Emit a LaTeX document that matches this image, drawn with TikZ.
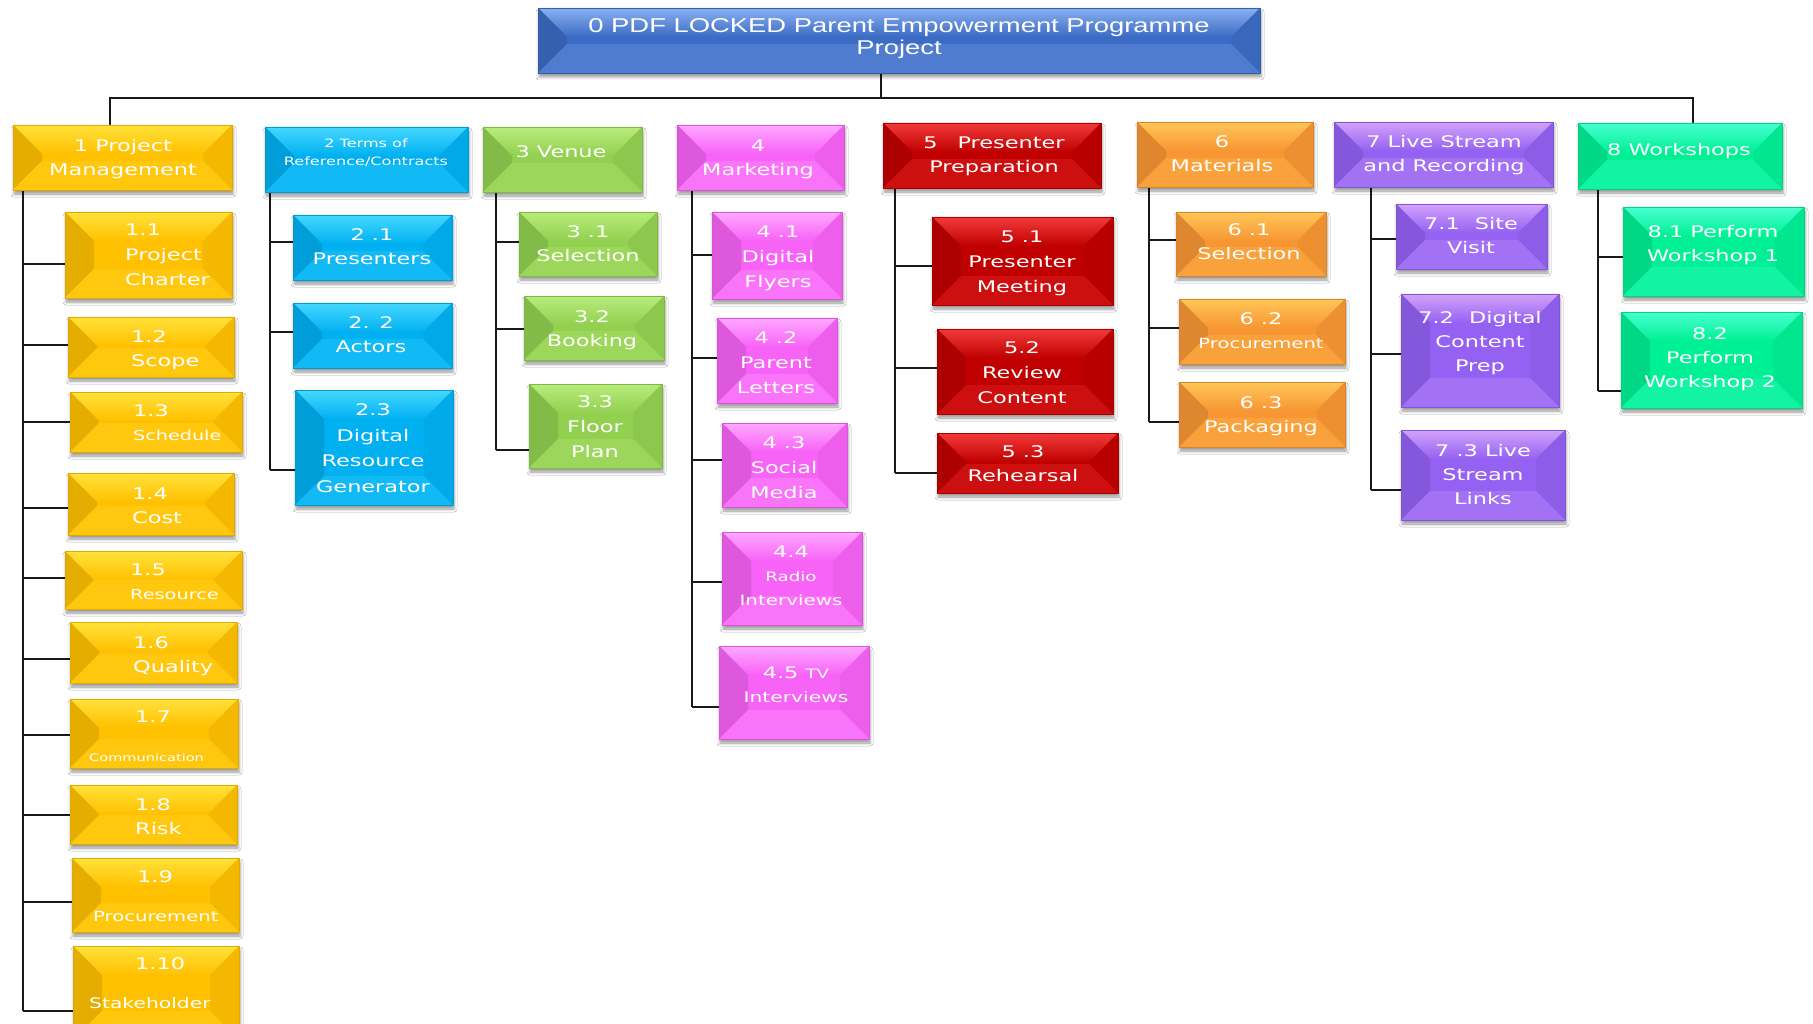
\documentclass[tikz,border=0pt]{standalone}
\usepackage{fontspec}
\newfontfamily\boxfont{DejaVu Sans}[FakeStretch=1.4]
\newfontfamily\titlefont{Liberation Sans}[FakeStretch=1.37]
\usetikzlibrary{shadows.blur}
\pgfdeclarelayer{background}
\pgfsetlayers{background,main}
\definecolor{cBlu}{HTML}{3B6BC4}\definecolor{cBluL}{HTML}{8AB0F0}
\definecolor{cYel}{HTML}{FFC000}\definecolor{cYelL}{HTML}{FFE23A}
\definecolor{cCya}{HTML}{00B0F0}\definecolor{cCyaL}{HTML}{45D8FF}
\definecolor{cGre}{HTML}{92D050}\definecolor{cGreL}{HTML}{B8EC7C}
\definecolor{cMag}{HTML}{F762F7}\definecolor{cMagL}{HTML}{FFA8FF}
\definecolor{cRed}{HTML}{C00000}\definecolor{cRedL}{HTML}{F23A3A}
\definecolor{cOra}{HTML}{F79633}\definecolor{cOraL}{HTML}{FFC658}
\definecolor{cPur}{HTML}{9461F2}\definecolor{cPurL}{HTML}{D2A2FA}
\definecolor{cTea}{HTML}{00F095}\definecolor{cTeaL}{HTML}{48FFD0}
\tikzset{
  box/.style 2 args={rectangle, inner sep=0pt, fill=#1, draw=#1!88!black, line width=0.5pt,
    blur shadow={shadow xshift=1pt, shadow yshift=-4pt, shadow blur radius=3pt, shadow opacity=40},
    path picture={
      \coordinate (ppnw) at (path picture bounding box.north west);
      \coordinate (ppne) at (path picture bounding box.north east);
      \coordinate (ppsw) at (path picture bounding box.south west);
      \coordinate (ppse) at (path picture bounding box.south east);
      \shade[top color=#2, bottom color=#1] (ppnw) -- (ppne) -- ([shift={(-29pt,-29pt)}]ppne) -- ([shift={(29pt,-29pt)}]ppnw) -- cycle;
      \fill[#1!90!black] (ppnw) -- ([shift={(29pt,-29pt)}]ppnw) -- ([shift={(29pt,29pt)}]ppsw) -- (ppsw) -- cycle;
      \fill[#1!96!black] (ppne) -- ([shift={(-29pt,-29pt)}]ppne) -- ([shift={(-29pt,29pt)}]ppse) -- (ppse) -- cycle;
      \fill[#2!25!#1] (ppsw) -- (ppse) -- ([shift={(-29pt,29pt)}]ppse) -- ([shift={(29pt,29pt)}]ppsw) -- cycle;
    }},
  txt/.style={text=white, inner sep=0pt, align=center, font=\boxfont\fontsize{16}{24}\selectfont, yshift=-3.5pt,
    execute at begin node=\strut, execute at end node=\strut},
  ltxt/.style={txt, align=left, anchor=west},
  pitch/.style={font=\boxfont\fontsize{16}{#1}\selectfont},
  conn/.style={line width=2pt, draw=black!90},
}
\newcommand\mkbox[7]{\node[box={#2}{#3}, minimum width={#6-#4}, minimum height={#7-#5}] (#1) at ({(#4+#6)/2},{(#5+#7)/2}) {};}
\newcommand\fs[1]{\fontsize{#1}{24}\selectfont}
\begin{document}
\begin{tikzpicture}[x=1pt,y=-1pt]
\useasboundingbox (0,0) rectangle (1813,1024);
% ---- boxes ----
\mkbox{n0}{cBlu}{cBluL}{538}{8}{1260}{73}
\mkbox{n1}{cYel}{cYelL}{13}{125}{232}{190}
\mkbox{n2}{cCya}{cCyaL}{265}{127}{468}{192}
\mkbox{n3}{cGre}{cGreL}{483}{127}{642}{192}
\mkbox{n4}{cMag}{cMagL}{677}{125}{844}{190}
\mkbox{n5}{cRed}{cRedL}{883}{123}{1101}{188}
\mkbox{n6}{cOra}{cOraL}{1137}{122}{1313}{187}
\mkbox{n7}{cPur}{cPurL}{1334}{122}{1553}{187}
\mkbox{n8}{cTea}{cTeaL}{1578}{123}{1782}{189}
%
\mkbox{c11}{cYel}{cYelL}{65}{212}{232}{298}
\mkbox{c12}{cYel}{cYelL}{68}{317}{234}{377}
\mkbox{c13}{cYel}{cYelL}{70}{392}{242}{452}
\mkbox{c14}{cYel}{cYelL}{68}{473}{234}{535}
\mkbox{c15}{cYel}{cYelL}{65}{551}{242}{609}
\mkbox{c16}{cYel}{cYelL}{70}{622}{237}{683}
\mkbox{c17}{cYel}{cYelL}{70}{699}{238}{768}
\mkbox{c18}{cYel}{cYelL}{70}{785}{237}{844}
\mkbox{c19}{cYel}{cYelL}{72}{858}{239}{932}
\mkbox{c110}{cYel}{cYelL}{73}{946}{239}{1040}
%
\mkbox{c21}{cCya}{cCyaL}{293}{215}{452}{280}
\mkbox{c22}{cCya}{cCyaL}{293}{303}{452}{368}
\mkbox{c23}{cCya}{cCyaL}{295}{390}{453}{505}
%
\mkbox{c31}{cGre}{cGreL}{519}{212}{657}{276}
\mkbox{c32}{cGre}{cGreL}{524}{296}{664}{360}
\mkbox{c33}{cGre}{cGreL}{529}{384}{662}{468}
%
\mkbox{c41}{cMag}{cMagL}{712}{212}{842}{299}
\mkbox{c42}{cMag}{cMagL}{717}{318}{837}{403}
\mkbox{c43}{cMag}{cMagL}{722}{423}{847}{507}
\mkbox{c44}{cMag}{cMagL}{722}{532}{862}{625}
\mkbox{c45}{cMag}{cMagL}{719}{646}{869}{739}
%
\mkbox{c51}{cRed}{cRedL}{932}{217}{1113}{305}
\mkbox{c52}{cRed}{cRedL}{937}{329}{1113}{414}
\mkbox{c53}{cRed}{cRedL}{937}{433}{1118}{493}
%
\mkbox{c61}{cOra}{cOraL}{1176}{212}{1326}{276}
\mkbox{c62}{cOra}{cOraL}{1179}{299}{1345}{364}
\mkbox{c63}{cOra}{cOraL}{1179}{382}{1345}{447}
%
\mkbox{c71}{cPur}{cPurL}{1396}{204}{1547}{269}
\mkbox{c72}{cPur}{cPurL}{1401}{294}{1559}{407}
\mkbox{c73}{cPur}{cPurL}{1401}{430}{1565}{520}
%
\mkbox{c81}{cTea}{cTeaL}{1623}{207}{1804}{296}
\mkbox{c82}{cTea}{cTeaL}{1621}{312}{1802}{408}
% ---- texts ----
\node[txt, font=\titlefont\fontsize{20}{22}\selectfont, yshift=1pt] (n0t) at (899,37) {0 PDF LOCKED Parent Empowerment Programme\\Project};
\node[txt] (n1t) at (123,158) {1 Project\\Management};
\node[txt, font=\boxfont\fontsize{11.5}{18}\selectfont] (n2t) at (366,151) {2 Terms of\\Reference/Contracts};
\node[txt] (n3t) at (561,149) {3 Venue};
\node[txt] (n4t) at (758,157.5) {4\\Marketing};
\node[txt] (n5t) at (994,155) {5\hspace{20pt}Presenter\\Preparation};
\node[txt] (n6t) at (1222,154) {6\\Materials};
\node[txt] (n7t) at (1444,153.5) {7 Live Stream\\and Recording};
\node[txt] (n8t) at (1679,147) {8 Workshops};
%
\node[ltxt, pitch=25] (c11t) at (125,255) {1.1\\Project\\Charter};
\node[ltxt] (c12t) at (131,348.5) {1.2\\Scope};
\node[ltxt] (c13t) at (133,422.5) {1.3\\{\fs{13.7}Schedule}};
\node[ltxt] (c14t) at (132,506) {1.4\\Cost};
\node[ltxt] (c15t) at (130,582) {1.5\\{\fs{13.8}Resource}};
\node[ltxt] (c16t) at (133,654.5) {1.6\\Quality};
\node[ltxt] (c17t) at (89,736.5) {\hspace*{46pt}1.7\\[15pt]{\fs{10.4}Communication}};
\node[ltxt] (c18t) at (135,817) {1.8\\Risk};
\node[ltxt] (c19t) at (93,896.5) {\hspace*{44pt}1.9\\[15pt]{\fs{14}Procurement}};
\node[ltxt] (c110t) at (89,983.5) {\hspace*{46pt}1.10\\[15pt]{\fs{14.5}Stakeholder}};
%
\node[txt] (c21t) at (372,247) {2 .1\\Presenters};
\node[txt] (c22t) at (371,335) {2. 2\\Actors};
\node[txt, pitch=25.5] (c23t) at (373,448.5) {2.3\\Digital\\Resource\\Generator};
%
\node[txt] (c31t) at (588,244) {3 .1\\Selection};
\node[txt] (c32t) at (592,328.5) {3.2\\Booking};
\node[txt, pitch=25] (c33t) at (595,427) {3.3\\Floor\\Plan};
%
\node[txt, pitch=25] (c41t) at (778,257) {4 .1\\Digital\\Flyers};
\node[txt, pitch=25] (c42t) at (776,362.5) {4 .2\\Parent\\Letters};
\node[txt, pitch=25] (c43t) at (784,467.5) {4 .3\\Social\\Media};
\node[txt] (c44t) at (791,575.5) {4.4\\{\fs{13}Radio}\\{\fs{14.2}Interviews}};
\node[txt] (c45t) at (796,684.5) {4.5 {\fs{13}TV}\\{\fs{14.5}Interviews}};
%
\node[txt, pitch=25] (c51t) at (1022,262) {5 .1\\Presenter\\Meeting};
\node[txt, pitch=25] (c52t) at (1022,373) {5.2\\Review\\Content};
\node[txt] (c53t) at (1023,464) {5 .3\\Rehearsal};
%
\node[txt] (c61t) at (1249,241.5) {6 .1\\Selection};
\node[txt] (c62t) at (1261,331) {6 .2\\{\fs{14}Procurement}};
\node[txt] (c63t) at (1261,415) {6 .3\\Packaging};
%
\node[txt] (c71t) at (1471,236) {7.1\hspace{8pt} Site\\Visit};
\node[txt] (c72t) at (1480,342) {7.2\hspace{8pt} Digital\\Content\\Prep};
\node[txt] (c73t) at (1483,474.5) {7 .3 Live\\Stream\\Links};
%
\node[txt] (c81t) at (1713,244) {8.1 Perform\\Workshop 1};
\node[txt] (c82t) at (1710,358) {8.2\\Perform\\Workshop 2};
% ---- connectors ----
\begin{pgfonlayer}{background}
\fill[white] (0,0) rectangle (1813,1024);
\coordinate (j0) at (881,98);
\coordinate (busL) at (110,98);
\coordinate (busR) at (1693,98);
\draw[conn] (j0 |- n0.south) -- (j0);
\draw[conn, line width=2.4pt] (busL |- n1.north) -- (busL) -- (busR) -- (busR |- n8.north);
\draw[conn] (n1.south -| 23,0) -- (23,1011);
\foreach \c/\b in {c11/264,c12/345,c13/422,c14/508,c15/578,c16/659,c17/735,c18/815,c19/902,c110/1011}
  \draw[conn] (23,\b) -- (\c.west |- 0,\b);
\draw[conn] (n2.south -| 270,0) -- (270,470);
\foreach \c/\b in {c21/242,c22/332,c23/470}
  \draw[conn] (270,\b) -- (\c.west |- 0,\b);
\draw[conn] (n3.south -| 496,0) -- (496,450);
\foreach \c/\b in {c31/242,c32/329,c33/450}
  \draw[conn] (496,\b) -- (\c.west |- 0,\b);
\draw[conn] (n4.south -| 692,0) -- (692,707);
\foreach \c/\b in {c41/255,c42/358,c43/460,c44/582,c45/707}
  \draw[conn] (692,\b) -- (\c.west |- 0,\b);
\draw[conn] (n5.south -| 895,0) -- (895,473);
\foreach \c/\b in {c51/266,c52/368,c53/473}
  \draw[conn] (895,\b) -- (\c.west |- 0,\b);
\draw[conn] (n6.south -| 1149,0) -- (1149,422);
\foreach \c/\b in {c61/240,c62/328,c63/422}
  \draw[conn] (1149,\b) -- (\c.west |- 0,\b);
\draw[conn] (n7.south -| 1371,0) -- (1371,490);
\foreach \c/\b in {c71/239,c72/354,c73/490}
  \draw[conn] (1371,\b) -- (\c.west |- 0,\b);
\draw[conn] (n8.south -| 1598,0) -- (1598,391);
\foreach \c/\b in {c81/257,c82/391}
  \draw[conn] (1598,\b) -- (\c.west |- 0,\b);
\end{pgfonlayer}
\end{tikzpicture}
\end{document}
